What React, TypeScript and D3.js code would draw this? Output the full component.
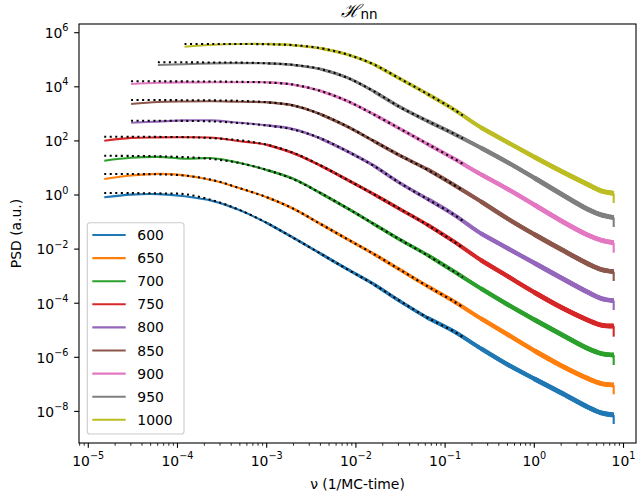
import React from 'react';
import * as d3 from 'd3';

const W = 637;
const H = 499;
const PLOT = { left: 79, right: 636, top: 24, bottom: 443 };

const TEMPS = ['600', '650', '700', '750', '800', '850', '900', '950', '1000'];
const COLORS = ['#1f77b4', '#ff7f0e', '#2ca02c', '#d62728', '#9467bd', '#8c564b', '#e377c2', '#7f7f7f', '#bcbd22'];

// frequency grid (1/MC-time)
const FREQ = [1.51e-5, 3.02e-5, 6.03e-5, 1.2e-4, 2.51e-4, 5.01e-4, 1e-3, 2.0e-3, 3.98e-3, 7.94e-3, 1.58e-2, 3.16e-2, 6.31e-2, 0.126, 0.251, 0.501, 1.0, 2.0, 3.98, 5.62, 7.76];
const FIT_FREQ = [1.51e-5, 3.02e-5, 6.03e-5, 1.2e-4, 2.51e-4, 5.01e-4, 1e-3, 2.0e-3, 3.98e-3, 7.94e-3, 1.58e-2, 3.16e-2, 6.31e-2, 0.126, 0.158];

// measured PSD, log10 values (a.u.)
const lg600 = [-0.085, 0.015, 0.033, -0.048, -0.226, -0.566, -1.031, -1.586, -2.159, -2.736, -3.294, -3.937, -4.536, -5.046, -5.671, -6.266, -6.795, -7.312, -7.841, -8.056, -8.133];
const lg650 = [0.592, 0.721, 0.78, 0.725, 0.536, 0.25, -0.08, -0.51, -1.065, -1.627, -2.177, -2.773, -3.368, -3.937, -4.562, -5.157, -5.752, -6.307, -6.784, -6.969, -7.024];
const lg700 = [1.268, 1.375, 1.409, 1.342, 1.36, 1.183, 0.924, 0.595, 0.078, -0.484, -1.068, -1.664, -2.214, -2.828, -3.453, -4.048, -4.61, -5.153, -5.675, -5.86, -5.915];
const lg750 = [2.007, 2.111, 2.129, 2.133, 2.115, 1.99, 1.86, 1.545, 1.094, 0.569, 0.033, -0.532, -1.098, -1.726, -2.403, -3.002, -3.597, -4.152, -4.625, -4.81, -4.843];
const lg800 = [null, 2.673, 2.714, 2.758, 2.758, 2.669, 2.577, 2.433, 2.096, 1.623, 1.087, 0.43, -0.14, -0.732, -1.416, -1.97, -2.514, -3.061, -3.593, -3.826, -3.908];
const lg850 = [null, 3.364, 3.438, 3.457, 3.464, 3.445, 3.427, 3.309, 2.991, 2.536, 1.996, 1.449, 0.95, 0.37, -0.237, -0.872, -1.457, -2.011, -2.54, -2.754, -2.835];
const lg900 = [null, 4.104, 4.148, 4.163, 4.166, 4.166, 4.166, 4.078, 3.852, 3.482, 2.983, 2.436, 1.889, 1.338, 0.765, 0.222, -0.362, -0.954, -1.482, -1.671, -1.763];
const lg950 = [null, null, 4.806, 4.835, 4.865, 4.876, 4.869, 4.806, 4.658, 4.344, 3.837, 3.242, 2.736, 2.259, 1.749, 1.209, 0.632, 0.037, -0.529, -0.736, -0.832];
const lg1000 = [null, null, null, 5.482, 5.553, 5.582, 5.582, 5.538, 5.427, 5.201, 4.832, 4.285, 3.738, 3.157, 2.503, 1.948, 1.405, 0.88, 0.388, 0.152, 0.063];
// last (Nyquist) point of each spectrum, log10
const END_DROP = [-8.466, -7.368, -6.285, -5.238, -4.251, -3.179, -2.133, -1.183, -0.296];

// fitted model, log10 values
const fit600 = [0.074, 0.07, 0.06, 0.03, -0.2, -0.56, -1.03, -1.59, -2.16, -2.74, -3.3, -3.93, -4.53, -5.05, -5.25];
const fit650 = [0.776, 0.774, 0.765, 0.72, 0.55, 0.25, -0.08, -0.51, -1.065, -1.627, -2.177, -2.773, -3.368, -3.937, -4.145];
const fit700 = [1.449, 1.445, 1.43, 1.4, 1.33, 1.18, 0.93, 0.58, 0.08, -0.48, -1.07, -1.66, -2.23, -2.83, -3.04];
const fit750 = [2.155, 2.153, 2.148, 2.14, 2.1, 2.02, 1.86, 1.56, 1.1, 0.57, 0.03, -0.53, -1.1, -1.73, -1.95];
const fit800 = [null, 2.747, 2.745, 2.74, 2.72, 2.66, 2.57, 2.42, 2.1, 1.62, 1.08, 0.43, -0.15, -0.73, -0.96];
const fit850 = [null, 3.512, 3.51, 3.505, 3.5, 3.48, 3.43, 3.31, 2.99, 2.54, 2.0, 1.45, 0.94, 0.37, 0.17];
const fit900 = [null, 4.204, 4.203, 4.2, 4.195, 4.185, 4.16, 4.08, 3.85, 3.48, 2.98, 2.44, 1.89, 1.34, 1.15];
const fit950 = [null, null, 4.906, 4.905, 4.9, 4.895, 4.87, 4.81, 4.66, 4.34, 3.84, 3.24, 2.74, 2.26, 2.09];
const fit1000 = [null, null, null, 5.582, 5.582, 5.58, 5.575, 5.54, 5.43, 5.2, 4.83, 4.29, 3.74, 3.16, 2.94];

const SERIES = [lg600, lg650, lg700, lg750, lg800, lg850, lg900, lg950, lg1000];
const FITS = [fit600, fit650, fit700, fit750, fit800, fit850, fit900, fit950, fit1000];

const X_TICK_EXP = [-5, -4, -3, -2, -1, 0, 1];
const Y_TICK_EXP = [-8, -6, -4, -2, 0, 2, 4, 6];

const FONT = 'DejaVu Sans, sans-serif';

const x = d3.scaleLog().domain([Math.pow(10, -5.104), Math.pow(10, 1.14)]).range([PLOT.left, PLOT.right]);
const y = d3.scaleLog().domain([Math.pow(10, -9.168), Math.pow(10, 6.322)]).range([PLOT.bottom, PLOT.top]);

type Pt = [number, number];

function points(freqs: number[], lg: (number | null)[]): Pt[] {
  const out: Pt[] = [];
  lg.forEach((v, i) => {
    if (v !== null) out.push([freqs[i], Math.pow(10, v)]);
  });
  return out;
}

const lineGen = d3
  .line<Pt>()
  .x((d) => x(d[0]))
  .y((d) => y(d[1]))
  .curve(d3.curveCatmullRom.alpha(0.5));

// thicker stroke where the measured spectrum is dense/noisy
const WIDTH_STEPS: [number, number][] = [
  [0, 2.1],
  [1.0e-3, 2.5],
  [3.98e-3, 2.9],
  [1.58e-2, 3.4],
  [6.31e-2, 3.9],
  [0.251, 4.4],
  [1.0, 4.8],
];

function supLabel(exp: number) {
  return exp < 0 ? '\u2212' + Math.abs(exp) : String(exp);
}

export default function App() {
  const minorX: number[] = [];
  for (let e = -6; e <= 1; e++) {
    for (let k = 2; k <= 9; k++) {
      const v = k * Math.pow(10, e);
      if (x(v) >= PLOT.left && x(v) <= PLOT.right) minorX.push(v);
    }
  }

  return (
    <svg width={W} height={H} style={{ position: 'absolute', left: 0, top: 0, background: '#fff' }} fontFamily={FONT}>
      <defs>
        <clipPath id="plotclip">
          <rect x={PLOT.left} y={PLOT.top} width={PLOT.right - PLOT.left} height={PLOT.bottom - PLOT.top} />
        </clipPath>
      </defs>
      <rect x={0} y={0} width={W} height={H} fill="#fff" />

      <g clipPath="url(#plotclip)">
        {SERIES.map((lg, si) => {
          const pts = points(FREQ, lg);
          const fitPts = points(FIT_FREQ, FITS[si]);
          const last = pts[pts.length - 1];
          return (
            <g key={si}>
              {WIDTH_STEPS.map(([f0, w], wi) => {
                const sub = pts.filter((p) => p[0] >= f0);
                return (
                  <path
                    key={wi}
                    d={lineGen(sub) || ''}
                    fill="none"
                    stroke={COLORS[si]}
                    strokeWidth={w}
                    strokeLinejoin="round"
                    strokeLinecap="butt"
                  />
                );
              })}
              <line
                x1={x(last[0])}
                x2={x(last[0])}
                y1={y(last[1])}
                y2={y(Math.pow(10, END_DROP[si]))}
                stroke={COLORS[si]}
                strokeWidth={2.1}
              />
              <path
                d={lineGen(fitPts) || ''}
                fill="none"
                stroke="#000"
                strokeWidth={2.08}
                strokeDasharray="2.08 3.44"
              />
            </g>
          );
        })}
      </g>

      {/* spines */}
      <rect
        x={PLOT.left}
        y={PLOT.top}
        width={PLOT.right - PLOT.left}
        height={PLOT.bottom - PLOT.top}
        fill="none"
        stroke="#000"
        strokeWidth={1.1}
      />

      {/* x ticks */}
      {X_TICK_EXP.map((e) => {
        const px = x(Math.pow(10, e));
        return (
          <g key={'xt' + e}>
            <line x1={px} x2={px} y1={PLOT.bottom} y2={PLOT.bottom + 4.86} stroke="#000" strokeWidth={1.1} />
            <text x={px} y={466} textAnchor="middle" fontSize={13.9} fill="#000">
              10
              <tspan dy={-6.7} fontSize={9.7}>
                {supLabel(e)}
              </tspan>
            </text>
          </g>
        );
      })}
      {minorX.map((v, i) => (
        <line key={'xm' + i} x1={x(v)} x2={x(v)} y1={PLOT.bottom} y2={PLOT.bottom + 2.78} stroke="#000" strokeWidth={0.83} />
      ))}

      {/* y ticks */}
      {Y_TICK_EXP.map((e) => {
        const py = y(Math.pow(10, e));
        return (
          <g key={'yt' + e}>
            <line x1={PLOT.left - 4.86} x2={PLOT.left} y1={py} y2={py} stroke="#000" strokeWidth={1.1} />
            <text x={68.5} y={py + 5.3} textAnchor="end" fontSize={13.9} fill="#000">
              10
              <tspan dy={-6.7} fontSize={9.7}>
                {supLabel(e)}
              </tspan>
            </text>
          </g>
        );
      })}

      {/* axis labels */}
      <text x={(PLOT.left + PLOT.right) / 2} y={489} textAnchor="middle" fontSize={13.9} fill="#000">
        ν (1/MC-time)
      </text>
      <text transform={`translate(20.5, ${(PLOT.top + PLOT.bottom) / 2}) rotate(-90)`} textAnchor="middle" fontSize={13.9} fill="#000">
        PSD (a.u.)
      </text>

      {/* title */}
      <text x={(PLOT.left + PLOT.right) / 2 + 2} y={17} textAnchor="middle" fill="#000">
        <tspan fontSize={18} fontFamily="DejaVu Serif, serif" fontStyle="italic">ℋ</tspan>
        <tspan fontSize={13.5} dy={1.5}>nn</tspan>
      </text>

      {/* legend */}
      <g>
        <rect x={87.3} y={222.7} width={96.7} height={211.3} rx={2.8} fill="#fff" fillOpacity={0.8} stroke="#cccccc" strokeWidth={1.1} />
        {TEMPS.map((t, i) => {
          const ly = 235 + i * 23.1;
          return (
            <g key={t}>
              <line x1={92.3} x2={125.7} y1={ly} y2={ly} stroke={COLORS[i]} strokeWidth={2.08} />
              <text x={137.3} y={ly + 5} fontSize={13.9} fill="#000">
                {t}
              </text>
            </g>
          );
        })}
      </g>
    </svg>
  );
}
